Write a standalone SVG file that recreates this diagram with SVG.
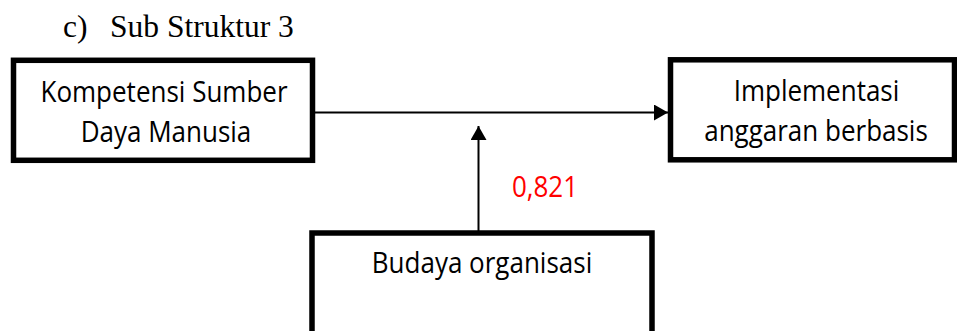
<svg xmlns="http://www.w3.org/2000/svg" width="957" height="331" viewBox="0 0 957 331">
  <style>
    .box { fill: #ffffff; stroke: #000000; stroke-width: 5.5; }
    .lbl { font-family: "Open Sans", "Noto Sans", "Liberation Sans", sans-serif; font-size: 26px; fill: #000000; text-anchor: middle; }
    .ttl { font-family: "Liberation Serif", "Times New Roman", serif; font-size: 31.5px; fill: #000000; }
    .val { font-family: "Open Sans", "Noto Sans", "Liberation Sans", sans-serif; font-size: 26px; fill: #ff0000; text-anchor: middle; }
    .conn { stroke: #000000; stroke-width: 2; fill: none; }
  </style>
  <defs>
    <marker id="arr" markerUnits="userSpaceOnUse" markerWidth="14" markerHeight="16" refX="14" refY="8" orient="auto">
      <path d="M0,0 L14,8 L0,16 Z" fill="#000000"/>
    </marker>
  </defs>
  <rect width="957" height="331" fill="#ffffff"/>
  <g id="title">
    <text class="ttl" x="63" y="37">c)</text>
    <text class="ttl" x="110" y="37">Sub Struktur 3</text>
  </g>
  <g id="connectors">
    <line class="conn" x1="315" y1="112.5" x2="668" y2="112.5" marker-end="url(#arr)"/>
    <line class="conn" x1="478.5" y1="231" x2="478.5" y2="126" marker-end="url(#arr)"/>
    <text class="val" transform="translate(545 197) scale(1 1.12)">0,821</text>
  </g>
  <g id="node-ksdm">
    <rect class="box" x="13.5" y="60.3" width="299" height="100"/>
    <text class="lbl" transform="translate(164 101.5) scale(1 1.13)">Kompetensi Sumber</text>
    <text class="lbl" transform="translate(166 141.5) scale(1 1.13)">Daya Manusia</text>
  </g>
  <g id="node-implementasi">
    <rect class="box" x="670.5" y="59.8" width="284" height="100"/>
    <text class="lbl" transform="translate(816.5 100.5) scale(1 1.13)">Implementasi</text>
    <text class="lbl" transform="translate(816 140.5) scale(1 1.13)">anggaran berbasis</text>
  </g>
  <g id="node-budaya">
    <rect class="box" x="312" y="233" width="340" height="120"/>
    <text class="lbl" transform="translate(482 273) scale(1 1.13)">Budaya organisasi</text>
  </g>
</svg>
